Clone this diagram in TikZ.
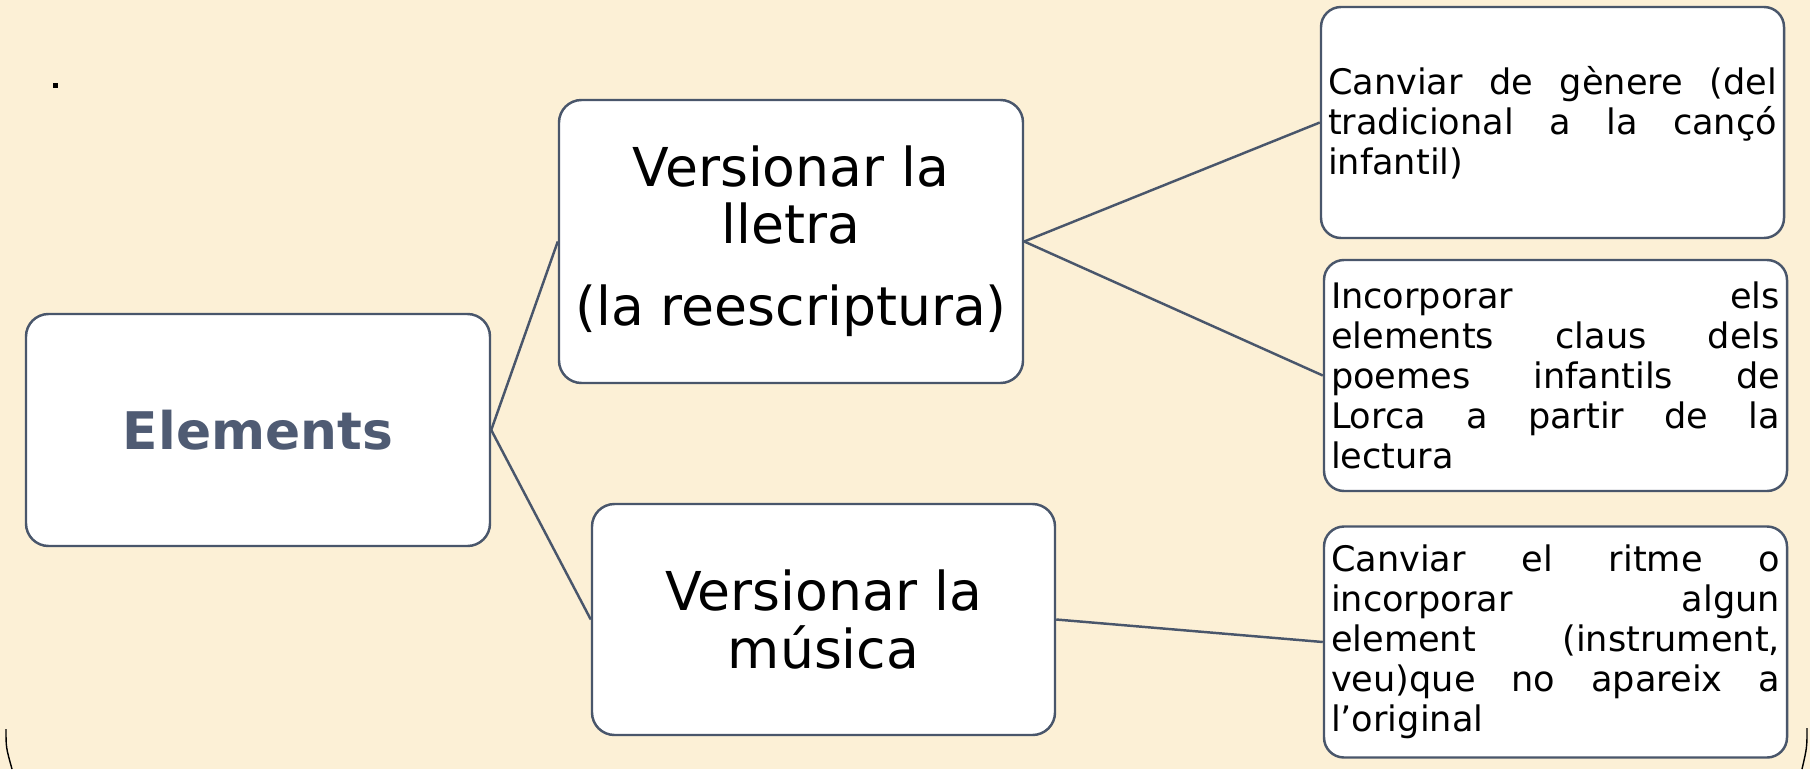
\documentclass[tikz,border=0pt]{standalone}
\usepackage{fontspec}
\usepackage{tikz}
\setmainfont{DejaVu Sans}
\usetikzlibrary{positioning}
\definecolor{paper}{RGB}{252, 240, 214}
\definecolor{boxline}{RGB}{73, 86, 107}
\definecolor{titlecolor}{RGB}{79, 91, 115}

\begin{document}
\begin{tikzpicture}[
    mainbox/.style={draw=boxline, line width=1.4pt, fill=white, rounded corners=0.45cm, align=center, inner sep=0pt, font=\fontsize{30.5}{32.5}\selectfont},
    detailbox/.style={draw=boxline, line width=1.4pt, fill=white, rounded corners=0.4cm, text width=8.98cm, align=justify, inner xsep=0.14cm, inner ysep=0pt, minimum height=4.62cm, font=\fontsize{20}{22.7}\selectfont},
    link/.style={draw=boxline, line width=1.4pt}
]

% Background
\fill[paper] (0, 0) rectangle (36.2, -15.38);
\useasboundingbox (0, 0) rectangle (36.2, -15.38);
\fill[black] (1.05, -1.65) rectangle (1.15, -1.75);
\draw[line width=0.8pt] (0.12, -14.58) .. controls (0.12, -14.95) .. (0.24, -15.38);
\draw[line width=0.8pt] (36.14, -14.56) .. controls (36.14, -14.95) .. (36.04, -15.38);

% Main components
\node[mainbox, minimum width=9.28cm, minimum height=4.64cm, text=titlecolor, font=\bfseries\fontsize{29.5}{31.7}\selectfont] (elements) at (5.16, -8.60) {Elements};
\node[mainbox, minimum width=9.28cm, minimum height=5.66cm] (lletra) at (15.82, -4.83) {Versionar la\\lletra\\[0.5cm](la reescriptura)};
\node[mainbox, minimum width=9.26cm, minimum height=4.62cm] (musica) at (16.47, -12.39) {Versionar la\\música};

% Sub-components
\node[detailbox] (genere) at (31.05, -2.45) {Canviar de gènere (del\linebreak tradicional a la cançó\linebreak infantil)};
\node[detailbox] (claus) at (31.11, -7.51) {Incorporar els\linebreak elements claus dels\linebreak poemes infantils de\linebreak Lorca a partir de la\linebreak lectura};
\node[detailbox] (ritme) at (31.11, -12.84) {Canviar el ritme o\linebreak incorporar algun\linebreak element (instrument,\linebreak veu)que no apareix a\linebreak l’original};

% Connectors
\draw[link] (elements.east) -- (lletra.west);
\draw[link] (elements.east) -- (musica.west);

\draw[link] (lletra.east) -- (genere.west);
\draw[link] (lletra.east) -- (claus.west);

\draw[link] (musica.east) -- (ritme.west);

\end{tikzpicture}
\end{document}
